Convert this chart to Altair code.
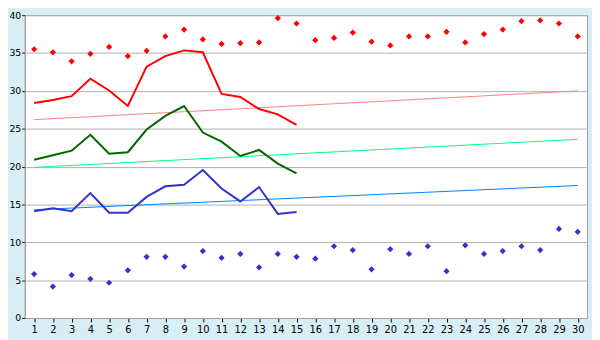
import altair as alt
import pandas as pd

days = list(range(1, 31))

# scatter markers
red_points = [35.5, 35.1, 33.9, 34.9, 35.8, 34.6, 35.3, 37.2, 38.1, 36.8,
              36.2, 36.3, 36.4, 39.6, 38.9, 36.7, 37.0, 37.7, 36.5, 36.0,
              37.2, 37.2, 37.8, 36.4, 37.5, 38.1, 39.2, 39.3, 38.9, 37.2]
blue_points = [5.8, 4.15, 5.67, 5.17, 4.66, 6.3, 8.08, 8.08, 6.8, 8.85,
               7.96, 8.47, 6.69, 8.47, 8.08, 7.83, 9.48, 8.97, 6.43, 9.1,
               8.47, 9.48, 6.18, 9.6, 8.47, 8.85, 9.48, 8.97, 11.77, 11.39]

# lines (days 1-15)
line_days = list(range(1, 16))
red_line = [28.4, 28.8, 29.3, 31.6, 30.05, 28.0, 33.2, 34.6, 35.35, 35.1,
            29.6, 29.2, 27.6, 26.9, 25.5]
green_line = [20.9, 21.5, 22.1, 24.2, 21.7, 21.9, 24.9, 26.7, 28.0, 24.5,
              23.3, 21.4, 22.2, 20.4, 19.1]
blue_line = [14.1, 14.5, 14.1, 16.5, 13.9, 13.9, 16.0, 17.4, 17.6, 19.55,
             17.1, 15.4, 17.3, 13.75, 14.0]

# trend lines (start and end values at day 1 and day 30)
trend_days = [1, 30]
red_trend = [26.2, 30.0]
green_trend = [19.9, 23.6]
blue_trend = [14.3, 17.5]

series_names = ["red", "green", "blue", "red_trend", "green_trend", "blue_trend",
                "red_pts", "blue_pts"]
series_colors = ["#FF0000", "#006600", "#3333CC", "#FF8080", "#00FF80", "#0080FF",
                 "#FF0000", "#3333CC"]

lines_df = pd.concat([
    pd.DataFrame({"day": line_days, "value": red_line, "series": "red"}),
    pd.DataFrame({"day": line_days, "value": green_line, "series": "green"}),
    pd.DataFrame({"day": line_days, "value": blue_line, "series": "blue"}),
])
trend_df = pd.concat([
    pd.DataFrame({"day": trend_days, "value": red_trend, "series": "red_trend"}),
    pd.DataFrame({"day": trend_days, "value": green_trend, "series": "green_trend"}),
    pd.DataFrame({"day": trend_days, "value": blue_trend, "series": "blue_trend"}),
])
pts_df = pd.concat([
    pd.DataFrame({"day": days, "value": red_points, "series": "red_pts"}),
    pd.DataFrame({"day": days, "value": blue_points, "series": "blue_pts"}),
])

color = alt.Color("series:N", scale=alt.Scale(domain=series_names, range=series_colors),
                  legend=None)

x_enc = alt.X("day:O", scale=alt.Scale(domain=days, paddingOuter=0.5),
              axis=alt.Axis(title=None, grid=False, labelAngle=0, tickSize=4,
                            labelPadding=3, tickColor="black", labelFontSize=10,
                            domainColor="#A0A0A0"))
y_enc = alt.Y("value:Q", scale=alt.Scale(domain=[0, 40], nice=False, zero=True),
              axis=alt.Axis(title=None, values=list(range(0, 41, 5)), grid=True,
                            gridColor="#B0B0B0", tickSize=3, labelPadding=1,
                            labelFontSize=9.5,
                            tickColor="black", domainColor="#A0A0A0"))

trend = alt.Chart(trend_df).mark_line(strokeWidth=1).encode(
    x=x_enc, y=y_enc, color=color, detail="series:N")
lines = alt.Chart(lines_df).mark_line(strokeWidth=2).encode(
    x=x_enc, y=y_enc, color=color, detail="series:N")
points = alt.Chart(pts_df).mark_point(shape="diamond", filled=True, size=40,
                                      opacity=1).encode(
    x=x_enc, y=y_enc, color=color)

chart = alt.layer(trend, lines, points).properties(
    width=570, height=307,
    autosize=alt.AutoSizeParams(type="none"),
    padding={"left": 17, "top": 5, "right": 5, "bottom": 20},
    background="#D8EEF5",
).configure_view(
    fill="white", stroke="#A0A0A0", strokeWidth=1
).configure_axis(
    labelFont="DejaVu Sans", labelColor="black"
)

chart.save("out.html", embed_options={"renderer": "svg", "actions": False})
